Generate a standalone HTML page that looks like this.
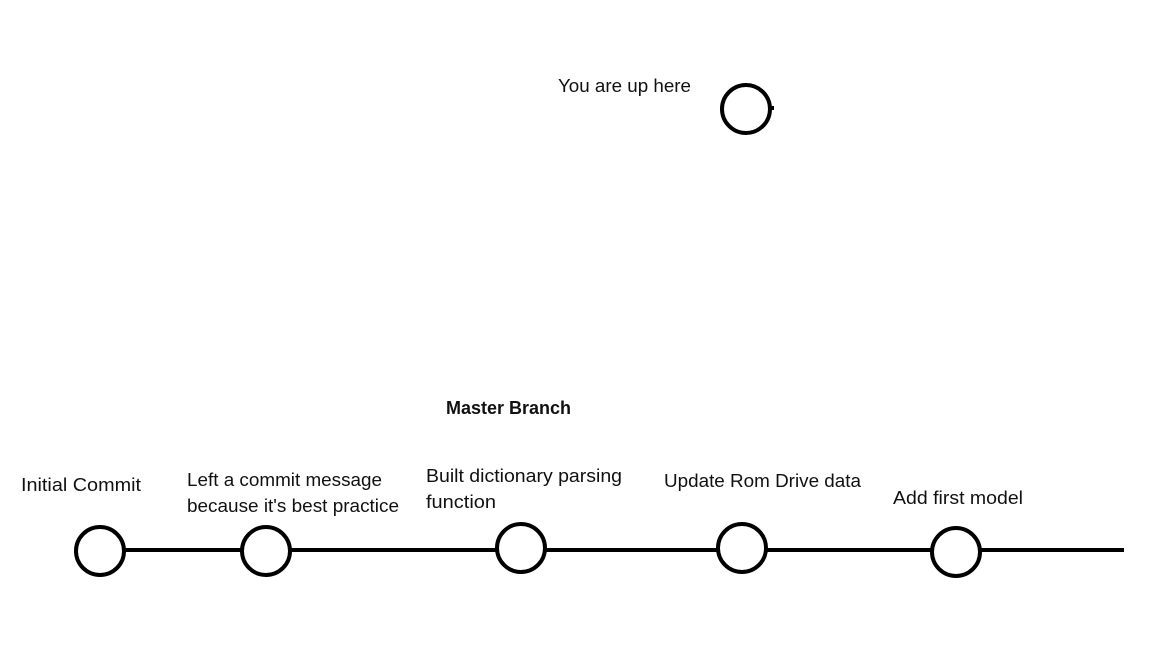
<!DOCTYPE html>
<html><head><style>body{margin:0;background:#fff}svg{display:block}</style></head>
<body>
<svg width="1152" height="648" viewBox="0 0 1152 648" xmlns="http://www.w3.org/2000/svg">
<line x1="100" y1="550" x2="1124" y2="550" stroke="#000" stroke-width="4"/>
<g fill="#fff" stroke="#000" stroke-width="4">
<circle cx="100" cy="551" r="24"/>
<circle cx="266" cy="551" r="24"/>
<circle cx="521" cy="548" r="24"/>
<circle cx="742" cy="548" r="24"/>
<circle cx="956" cy="552" r="24"/>
<circle cx="746" cy="109" r="24"/>
</g>
<line x1="768" y1="108" x2="774" y2="108" stroke="#000" stroke-width="4"/>
<g font-family="Liberation Sans, sans-serif" font-size="18" fill="#111" lengthAdjust="spacingAndGlyphs">
<text x="558" y="92" textLength="133" lengthAdjust="spacingAndGlyphs">You are up here</text>
<text x="446" y="414" font-weight="bold" textLength="125" lengthAdjust="spacingAndGlyphs">Master Branch</text>
<text x="21" y="491" textLength="120" lengthAdjust="spacingAndGlyphs">Initial Commit</text>
<text x="187" y="486" textLength="195" lengthAdjust="spacingAndGlyphs">Left a commit message</text>
<text x="187" y="512" textLength="212" lengthAdjust="spacingAndGlyphs">because it's best practice</text>
<text x="426" y="482" textLength="196" lengthAdjust="spacingAndGlyphs">Built dictionary parsing</text>
<text x="426" y="508" textLength="70" lengthAdjust="spacingAndGlyphs">function</text>
<text x="664" y="487" textLength="197" lengthAdjust="spacingAndGlyphs">Update Rom Drive data</text>
<text x="893" y="504" textLength="130" lengthAdjust="spacingAndGlyphs">Add first model</text>
</g>
</svg>
</body></html>
